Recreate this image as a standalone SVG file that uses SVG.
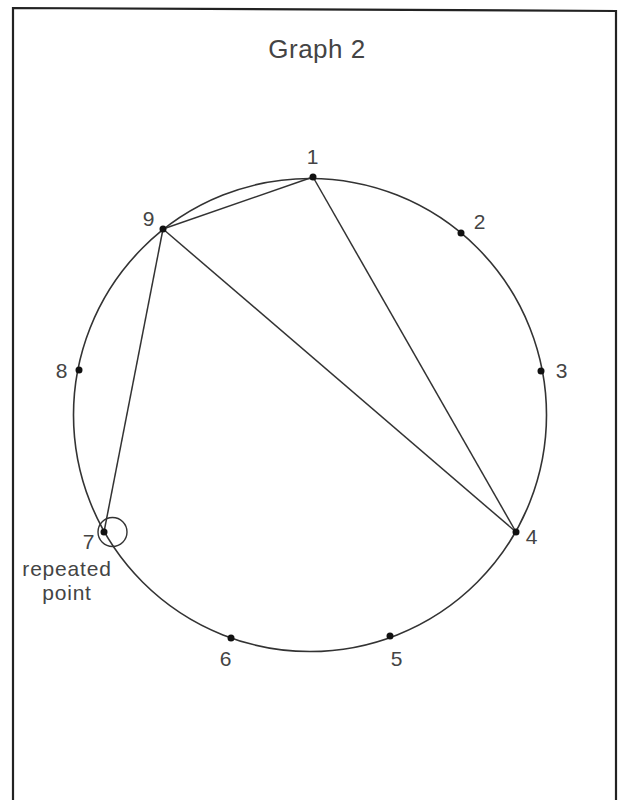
<svg xmlns="http://www.w3.org/2000/svg" width="620" height="800" viewBox="0 0 620 800">
<style>
.lbl{font-family:"Liberation Sans",Arial,sans-serif;font-size:21px;fill:#444;letter-spacing:0.8px;}
.title{font-family:"Liberation Sans",Arial,sans-serif;font-size:26px;fill:#444;text-anchor:middle;letter-spacing:0.5px;}
.edge{stroke:#333;stroke-width:1.5;fill:none;}
.dot{fill:#111;}
</style>
<rect width="620" height="800" fill="#fff"/>
<polyline points="13,800 13,8 616,11 616,800" fill="none" stroke="#222" stroke-width="2.2"/>
<text class="title" x="317" y="58">Graph 2</text>
<circle cx="310" cy="415" r="236.5" fill="none" stroke="#333" stroke-width="1.6"/>
<g id="connectors">
<line class="edge" x1="313" y1="177" x2="163" y2="229"/>
<line class="edge" x1="313" y1="177" x2="516" y2="532"/>
<line class="edge" x1="163" y1="229" x2="516" y2="532"/>
<line class="edge" x1="163" y1="229" x2="104" y2="532"/>
</g>
<g id="n1"><circle class="dot" cx="313" cy="177" r="3.5"/><text class="lbl" x="313" y="164" text-anchor="middle">1</text></g>
<g id="n2"><circle class="dot" cx="461" cy="233" r="3.5"/><text class="lbl" x="480" y="229" text-anchor="middle">2</text></g>
<g id="n3"><circle class="dot" cx="541" cy="371" r="3.5"/><text class="lbl" x="562" y="378" text-anchor="middle">3</text></g>
<g id="n4"><circle class="dot" cx="516" cy="532" r="3.5"/><text class="lbl" x="532" y="544" text-anchor="middle">4</text></g>
<g id="n5"><circle class="dot" cx="390" cy="636" r="3.5"/><text class="lbl" x="397" y="666" text-anchor="middle">5</text></g>
<g id="n6"><circle class="dot" cx="231" cy="638" r="3.5"/><text class="lbl" x="226" y="666" text-anchor="middle">6</text></g>
<g id="n7"><circle class="dot" cx="104" cy="532" r="3.5"/><circle cx="112.5" cy="532" r="14.5" fill="none" stroke="#333" stroke-width="1.4"/><text class="lbl" x="89" y="549" text-anchor="middle">7</text>
<text class="lbl" x="67" y="576" text-anchor="middle">repeated</text><text class="lbl" x="67" y="600" text-anchor="middle">point</text></g>
<g id="n8"><circle class="dot" cx="79" cy="370" r="3.5"/><text class="lbl" x="62" y="378" text-anchor="middle">8</text></g>
<g id="n9"><circle class="dot" cx="163" cy="229" r="3.5"/><text class="lbl" x="149" y="226" text-anchor="middle">9</text></g>
</svg>
